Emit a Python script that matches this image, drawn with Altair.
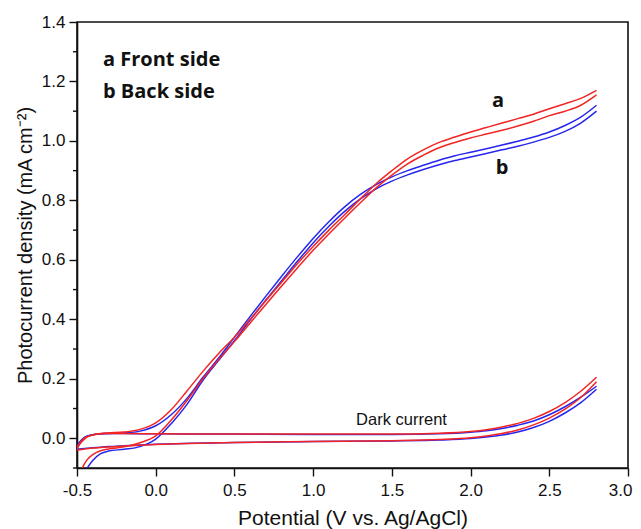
import altair as alt
import pandas as pd

# ---------------- data ----------------
PHOTO_X = [-0.5, -0.47, -0.44, -0.4, -0.35, -0.3, -0.2, -0.1, 0.0, 0.1, 0.2, 0.3, 0.4,
           0.5, 0.6, 0.7, 0.8, 0.9, 1.0, 1.1, 1.2, 1.3, 1.4, 1.5, 1.6, 1.7, 1.8, 1.9,
           2.0, 2.1, 2.2, 2.3, 2.4, 2.5, 2.6, 2.7, 2.8]

RED_PHOTO_FWD = [-0.15, -0.104, -0.075, -0.055, -0.042, -0.036, -0.029, -0.015, 0.008, 0.062,
                 0.128, 0.2, 0.265, 0.325, 0.388, 0.45, 0.512, 0.573, 0.632, 0.687, 0.74, 0.792,
                 0.842, 0.885, 0.923, 0.952, 0.977, 0.995, 1.01, 1.023, 1.036, 1.05, 1.066, 1.085,
                 1.1, 1.12, 1.155]
RED_PHOTO_REV = [-0.035, -0.012, 0.003, 0.011, 0.016, 0.018, 0.021, 0.03, 0.052, 0.097,
                 0.16, 0.225, 0.285, 0.34, 0.4, 0.463, 0.525, 0.587, 0.645, 0.7, 0.752, 0.805,
                 0.856, 0.9, 0.94, 0.97, 0.995, 1.013, 1.03, 1.045, 1.06, 1.075, 1.09, 1.108,
                 1.125, 1.143, 1.17]

BLUE_PHOTO_FWD = [-0.17, -0.13, -0.104, -0.075, -0.052, -0.043, -0.037, -0.028, -0.003, 0.05,
                  0.115, 0.195, 0.262, 0.328, 0.398, 0.465, 0.53, 0.595, 0.657, 0.713, 0.763,
                  0.805, 0.839, 0.865, 0.886, 0.904, 0.92, 0.934, 0.946, 0.958, 0.97, 0.982,
                  0.996, 1.012, 1.032, 1.06, 1.1]
BLUE_PHOTO_REV = [-0.025, -0.005, 0.006, 0.012, 0.015, 0.016, 0.018, 0.024, 0.042, 0.08,
                  0.135, 0.205, 0.27, 0.34, 0.41, 0.478, 0.545, 0.61, 0.672, 0.728, 0.778,
                  0.82, 0.853, 0.879, 0.9, 0.918, 0.935, 0.95, 0.962, 0.974, 0.986, 0.999,
                  1.013, 1.03, 1.052, 1.08, 1.12]

DARK_X = [-0.5, -0.45, -0.4, -0.35, -0.3, -0.2, 0.0, 0.5, 1.0, 1.5, 1.8, 2.0, 2.1, 2.2,
          2.3, 2.4, 2.5, 2.6, 2.7, 2.8]
RED_DARK_REV = [-0.03, 0.002, 0.011, 0.015, 0.016, 0.016, 0.015, 0.014, 0.014, 0.014, 0.017,
                0.023, 0.029, 0.038, 0.05, 0.067, 0.09, 0.12, 0.158, 0.205]
RED_DARK_FWD = [-0.04, -0.036, -0.033, -0.031, -0.029, -0.026, -0.021, -0.014, -0.011, -0.008,
                -0.004, 0.002, 0.008, 0.016, 0.028, 0.045, 0.068, 0.098, 0.137, 0.19]
BLUE_DARK_REV = [-0.025, 0.004, 0.012, 0.015, 0.016, 0.016, 0.015, 0.014, 0.013, 0.013, 0.015,
                 0.02, 0.025, 0.033, 0.044, 0.058, 0.079, 0.106, 0.138, 0.175]
BLUE_DARK_FWD = [-0.037, -0.034, -0.032, -0.03, -0.028, -0.025, -0.02, -0.014, -0.011, -0.009,
                 -0.006, -0.001, 0.004, 0.011, 0.021, 0.036, 0.057, 0.085, 0.12, 0.165]

X_TICKS = [-0.5, -0.25, 0.0, 0.25, 0.5, 0.75, 1.0, 1.25, 1.5, 1.75, 2.0, 2.25, 2.5, 2.75, 3.0]
Y_MAJOR = [0.0, 0.2, 0.4, 0.6, 0.8, 1.0, 1.2, 1.4]
Y_MINOR = [-0.1, 0.1, 0.3, 0.5, 0.7, 0.9, 1.1, 1.3]

LEGEND_TEXT = ["a Front side", "b Back side"]
LEGEND_X = [-0.335, -0.335]
LEGEND_Y = [1.272, 1.164]
CURVE_TEXT = ["a", "b"]
CURVE_X = [2.175, 2.2]
CURVE_Y = [1.134, 0.909]
DARK_TEXT = ["Dark current"]
DARK_TX = [1.273]
DARK_TY = [0.063]

RED = "#f22424"
BLUE = "#2626ee"
INK = "#111"


def curves(parts):
    rows = []
    for name, xs, ys in parts:
        for i, (xv, yv) in enumerate(zip(xs, ys)):
            rows.append({"curve": name, "i": i, "x": xv, "y": yv})
    return pd.DataFrame(rows)


red_df = curves([("red_dark_fwd", DARK_X, RED_DARK_FWD), ("red_dark_rev", DARK_X, RED_DARK_REV),
                 ("red_photo_fwd", PHOTO_X, RED_PHOTO_FWD), ("red_photo_rev", PHOTO_X, RED_PHOTO_REV)])
blue_df = curves([("blue_dark_fwd", DARK_X, BLUE_DARK_FWD), ("blue_dark_rev", DARK_X, BLUE_DARK_REV),
                  ("blue_photo_fwd", PHOTO_X, BLUE_PHOTO_FWD), ("blue_photo_rev", PHOTO_X, BLUE_PHOTO_REV)])

x_major = "abs(datum.value*2 - round(datum.value*2)) < 0.001"

x_axis = alt.Axis(
    values=X_TICKS, title="Potential (V vs. Ag/AgCl)", grid=False,
    labelExpr=f"{x_major} ? (datum.value < 0 ? '-' : '') + format(abs(datum.value), '.1f') : ''",
    tickSize={"condition": {"test": x_major, "value": 8}, "value": 4},
    labelAlign={"condition": {"test": "datum.value > 2.99", "value": "right"}, "value": "center"},
    labelOffset={"condition": {"test": "datum.value > 2.99", "value": 4}, "value": 0},
    labelFontSize=17, titleFontSize=21, labelFont="Liberation Sans", titleFont="Liberation Sans",
    titleFontWeight="normal", labelColor=INK, titleColor=INK, tickColor=INK,
    domainColor=INK, domainWidth=1.6, tickWidth=1.4, labelPadding=6, titlePadding=9,
    labelFlush=False, labelOverlap=False, labelBound=False,
)
y_axis = alt.Axis(
    values=Y_MAJOR, format=".1f", title="Photocurrent density (mA cm⁻²)", grid=False,
    tickSize=8,
    labelFontSize=17, titleFontSize=20, labelFont="Liberation Sans", titleFont="Liberation Sans",
    titleFontWeight="normal", labelColor=INK, titleColor=INK, tickColor=INK,
    domainColor=INK, domainWidth=1.6, tickWidth=1.4, labelPadding=4, titlePadding=6,
    labelFlush=False, labelOverlap=False, labelBound=False,
)

xs = alt.Scale(domain=[-0.5, 3.0], nice=False, zero=False)
ys = alt.Scale(domain=[-0.1, 1.4], nice=False, zero=False)


def line_layer(df, color):
    return alt.Chart(df).mark_line(clip=True, strokeWidth=1.5, color=color, interpolate="monotone").encode(
        x=alt.X("x:Q", scale=xs, axis=x_axis),
        y=alt.Y("y:Q", scale=ys, axis=y_axis),
        detail="curve:N",
        order="i:Q",
    )


blue_lines = line_layer(blue_df, BLUE)
red_lines = line_layer(red_df, RED)

# minor ticks of the y axis
minor_df = pd.DataFrame({"v": Y_MINOR})
minor_ticks = alt.Chart(minor_df).mark_rule(color=INK, strokeWidth=1.4).encode(
    y=alt.Y("v:Q", scale=ys),
    x=alt.value(-4),
    x2=alt.value(0),
)

legend_df = pd.DataFrame({"t": LEGEND_TEXT, "x": LEGEND_X, "y": LEGEND_Y})
curve_df = pd.DataFrame({"t": CURVE_TEXT, "x": CURVE_X, "y": CURVE_Y})
dark_df = pd.DataFrame({"t": DARK_TEXT, "x": DARK_TX, "y": DARK_TY})

legend_text = alt.Chart(legend_df).mark_text(
    align="left", baseline="middle", font="Open Sans", fontWeight="bold", fontSize=20, color=INK
).encode(x=alt.X("x:Q", scale=xs), y=alt.Y("y:Q", scale=ys), text="t:N")

curve_text = alt.Chart(curve_df).mark_text(
    align="center", baseline="middle", font="Open Sans", fontWeight="bold", fontSize=20, color=INK
).encode(x=alt.X("x:Q", scale=xs), y=alt.Y("y:Q", scale=ys), text="t:N")

dark_text = alt.Chart(dark_df).mark_text(
    align="left", baseline="middle", font="Liberation Sans", fontSize=16.5, color=INK
).encode(x=alt.X("x:Q", scale=xs), y=alt.Y("y:Q", scale=ys), text="t:N")

chart = alt.layer(blue_lines, red_lines, minor_ticks, legend_text, curve_text, dark_text).properties(
    width=551, height=446,
    padding={"left": 69, "top": 14, "right": 5, "bottom": 62},
    autosize="none",
    background="white",
).configure_view(stroke=INK, strokeWidth=1.6)

chart.save("out.html", embed_options={"renderer": "svg", "actions": False})
